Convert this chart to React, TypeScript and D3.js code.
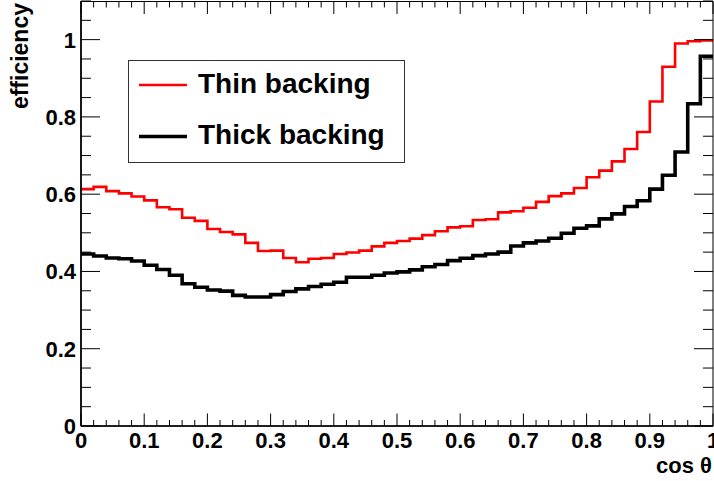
import React from "react";
import * as d3 from "d3";

const thinBacking = [
  0.613, 0.619, 0.608, 0.602, 0.594, 0.584, 0.566, 0.561, 0.539, 0.531,
  0.510, 0.502, 0.496, 0.474, 0.453, 0.454, 0.435, 0.424, 0.433, 0.435,
  0.445, 0.449, 0.454, 0.465, 0.474, 0.479, 0.485, 0.494, 0.504, 0.514,
  0.517, 0.533, 0.535, 0.553, 0.556, 0.565, 0.580, 0.595, 0.602, 0.616,
  0.644, 0.661, 0.685, 0.717, 0.761, 0.840, 0.930, 0.990, 0.996, 0.998,
];

const thickBacking = [
  0.445, 0.440, 0.435, 0.433, 0.427, 0.416, 0.405, 0.390, 0.368, 0.359,
  0.352, 0.349, 0.338, 0.334, 0.334, 0.340, 0.348, 0.355, 0.361, 0.367,
  0.372, 0.385, 0.385, 0.390, 0.396, 0.399, 0.404, 0.412, 0.418, 0.428,
  0.434, 0.441, 0.445, 0.450, 0.466, 0.474, 0.479, 0.486, 0.499, 0.512,
  0.518, 0.536, 0.549, 0.568, 0.583, 0.613, 0.649, 0.709, 0.834, 0.957,
];

const xTickLabels = ["0", "0.1", "0.2", "0.3", "0.4", "0.5", "0.6", "0.7", "0.8", "0.9", "1"];
const yTickLabels = ["0", "0.2", "0.4", "0.6", "0.8", "1"];
const seriesNames = ["Thin backing", "Thick backing"];
const xTitle = "cos θ";
const yTitle = "efficiency";

const W = 714;
const H = 481;
const FONT = "'Liberation Sans', Arial, Helvetica, sans-serif";

export default function App() {
  const x = d3.scaleLinear().domain([0, 1]).range([81, 713]);
  const y = d3.scaleLinear().domain([0, 1.1]).range([426, 1]);

  const nBins = thinBacking.length;
  const binW = 1 / nBins;
  const toPts = (arr: number[]) => {
    const pts: [number, number][] = arr.map((v, i) => [i * binW, v]);
    pts.push([1, arr[arr.length - 1]]);
    return pts;
  };
  const line = d3
    .line<[number, number]>()
    .x((d) => x(d[0]))
    .y((d) => y(d[1]))
    .curve(d3.curveStepAfter);

  const xMinor = d3.range(0, 51).map((i) => i * 0.02);
  const xMajor = xTickLabels.map((t) => +t);
  const yMinor = d3.range(0, 23).map((i) => i * 0.05).filter((v) => v <= 1.1);
  const yMajor = yTickLabels.map((t) => +t);

  const isMajorX = (v: number) => Math.abs(v * 10 - Math.round(v * 10)) < 1e-6;
  const isMajorY = (v: number) => Math.abs(v * 5 - Math.round(v * 5)) < 1e-6;

  const x0 = x(0), x1 = x(1), y0 = y(0), y1 = y(1.1);

  return (
    <svg
      width={W}
      height={H}
      style={{ position: "absolute", left: 0, top: 0, background: "#fff" }}
      fontFamily={FONT}
    >
      <rect x={0} y={0} width={W} height={H} fill="#fff" />
      {/* histograms */}
      <path d={line(toPts(thinBacking)) || ""} fill="none" stroke="#ff0000" strokeWidth={2.6} />
      <path d={line(toPts(thickBacking)) || ""} fill="none" stroke="#000" strokeWidth={3.6} />

      {/* frame */}
      <rect x={x0} y={y1 + 0.5} width={x1 - x0} height={y0 - y1 - 0.5} fill="none" stroke="#000" strokeWidth={1} />
      <line x1={x0} x2={x0} y1={y1} y2={y0} stroke="#000" strokeWidth={1.6} />
      <line x1={x0} x2={x1} y1={y0} y2={y0} stroke="#000" strokeWidth={1.6} />

      {/* x ticks bottom and top */}
      {xMinor.map((v, i) => {
        const len = isMajorX(v) ? 12.5 : 6;
        return (
          <g key={"xt" + i}>
            <line x1={x(v)} x2={x(v)} y1={y0} y2={y0 - len} stroke="#000" strokeWidth={1} />
            <line x1={x(v)} x2={x(v)} y1={y1 + 0.5} y2={y1 + 0.5 + len} stroke="#000" strokeWidth={1} />
          </g>
        );
      })}
      {/* y ticks left and right */}
      {yMinor.map((v, i) => {
        const len = isMajorY(v) ? 19 : 10;
        return (
          <g key={"yt" + i}>
            <line x1={x0} x2={x0 + len} y1={y(v)} y2={y(v)} stroke="#000" strokeWidth={1} />
            <line x1={x1} x2={x1 - len} y1={y(v)} y2={y(v)} stroke="#000" strokeWidth={1} />
          </g>
        );
      })}

      {/* x tick labels */}
      {xMajor.map((v, i) => (
        <text key={"xl" + i} x={x(v)} y={448} textAnchor="middle" fontSize={22} fontWeight="bold" fill="#000">
          {xTickLabels[i]}
        </text>
      ))}
      {/* y tick labels */}
      {yMajor.map((v, i) => (
        <text key={"yl" + i} x={76} y={y(v) + 8} textAnchor="end" fontSize={22} fontWeight="bold" fill="#000">
          {yTickLabels[i]}
        </text>
      ))}

      {/* axis titles */}
      <text x={712} y={473} textAnchor="end" fontSize={22} fontWeight="bold" fill="#000">
        {xTitle}
      </text>
      <text
        transform={`translate(28,3) rotate(-90)`}
        textAnchor="end"
        fontSize={23}
        fontWeight="bold"
        fill="#000"
      >
        {yTitle}
      </text>

      {/* legend */}
      <rect x={128.5} y={60.5} width={276} height={102} fill="#fff" stroke="#333" strokeWidth={1} />
      <line x1={139} x2={187} y1={85} y2={85} stroke="#ff0000" strokeWidth={2.6} />
      <line x1={139} x2={187} y1={136.5} y2={136.5} stroke="#000" strokeWidth={3.6} />
      <text x={198} y={93} fontSize={28} fontWeight="bold" fill="#000">
        {seriesNames[0]}
      </text>
      <text x={198} y={144} fontSize={28} fontWeight="bold" fill="#000">
        {seriesNames[1]}
      </text>
    </svg>
  );
}
